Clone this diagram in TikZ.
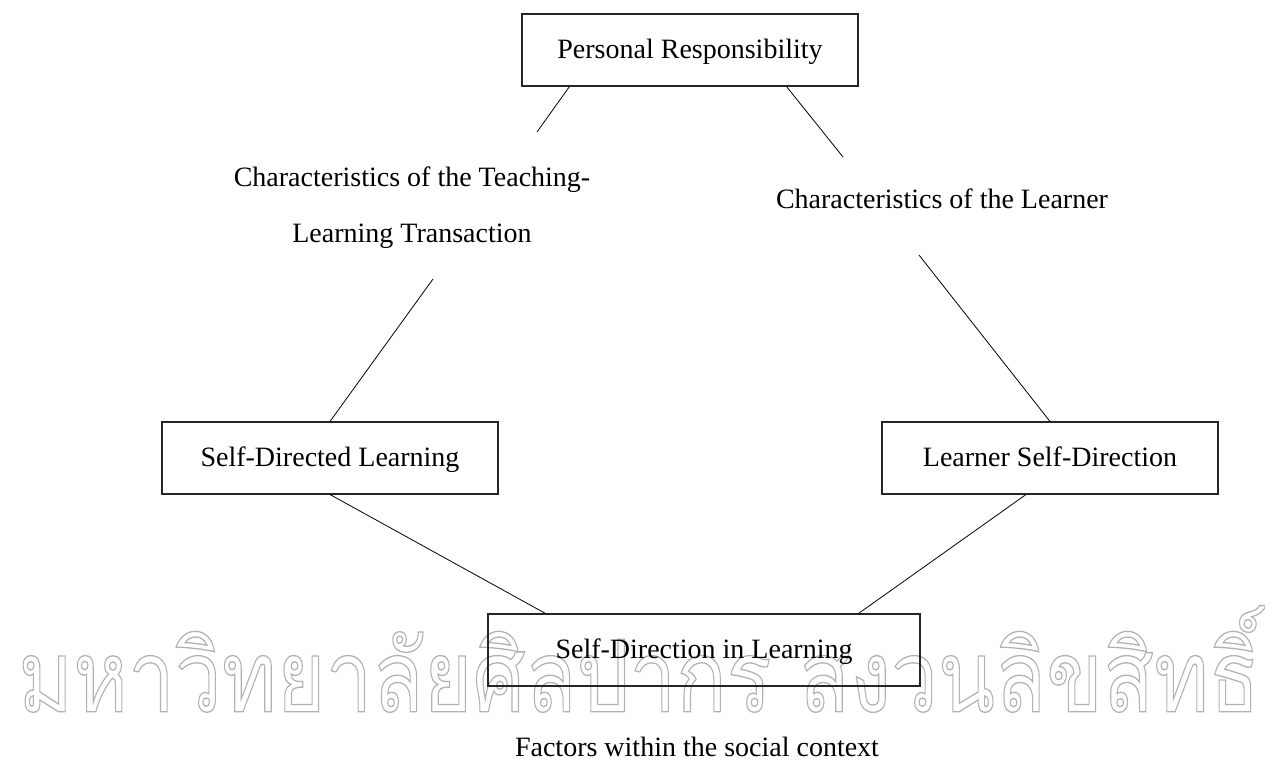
\documentclass[tikz,border=0pt]{standalone}
\usepackage{fontspec}
\usepackage{graphicx}
\setmainfont{Liberation Serif}
\newfontfamily\thaifont[Script=Thai]{Loma}
\begin{document}
\begin{tikzpicture}[x=0.75pt,y=-0.75pt,
  box/.style={draw=black!85,line width=0.8pt,minimum width=252pt,minimum height=54pt,inner sep=0pt,text height=16pt,text depth=2.5pt,font=\fontsize{21}{25}\selectfont},
  lbl/.style={inner sep=0pt,font=\fontsize{21}{42}\selectfont,align=center},
  conn/.style={draw=black,line width=0.6pt}]
\useasboundingbox (0,0) rectangle (1265,762);
% watermark (outlined grey letters, drawn first)
\node[inner sep=0pt,text=black!30] (wm) at (639,659)
  {\resizebox*{931pt}{80pt}{\special{pdf:literal direct 1 Tr 0.13 w}\thaifont มหาวิทยาลัยศิลปากร สงวนลิขสิทธิ์\special{pdf:literal direct 0 Tr}}};
% boxes
\node[box] (pr) at (690,50) {Personal Responsibility};
\node[box] (sdl) at (330,458) {Self-Directed Learning};
\node[box] (lsd) at (1050,458) {Learner Self-Direction};
\node[box,minimum width=324pt] (sdil) at (704,650) {Self-Direction in Learning};
% labels
\node[lbl] (ttl) at (412,208) {Characteristics of the Teaching-\\Learning Transaction};
\node[lbl] (cl) at (942,199) {Characteristics of the Learner};
\node[lbl] (fsc) at (697,747) {Factors within the social context};
% free ends
\coordinate (a1) at (537,132);
\coordinate (a2) at (433,279);
\coordinate (b1) at (843,157);
\coordinate (b2) at (919,255);
% connectors
\draw[conn] (pr.south west) ++(48,0) -- (a1);
\draw[conn] (a2) -- (sdl.north);
\draw[conn] (pr.south east) ++(-72,0) -- (b1);
\draw[conn] (b2) -- (lsd.north);
\draw[conn] (sdl.south) -- ([xshift=43.5pt]sdil.north west);
\draw[conn] ([xshift=-18pt]lsd.south) -- ([xshift=-46.5pt]sdil.north east);
\end{tikzpicture}
\end{document}
